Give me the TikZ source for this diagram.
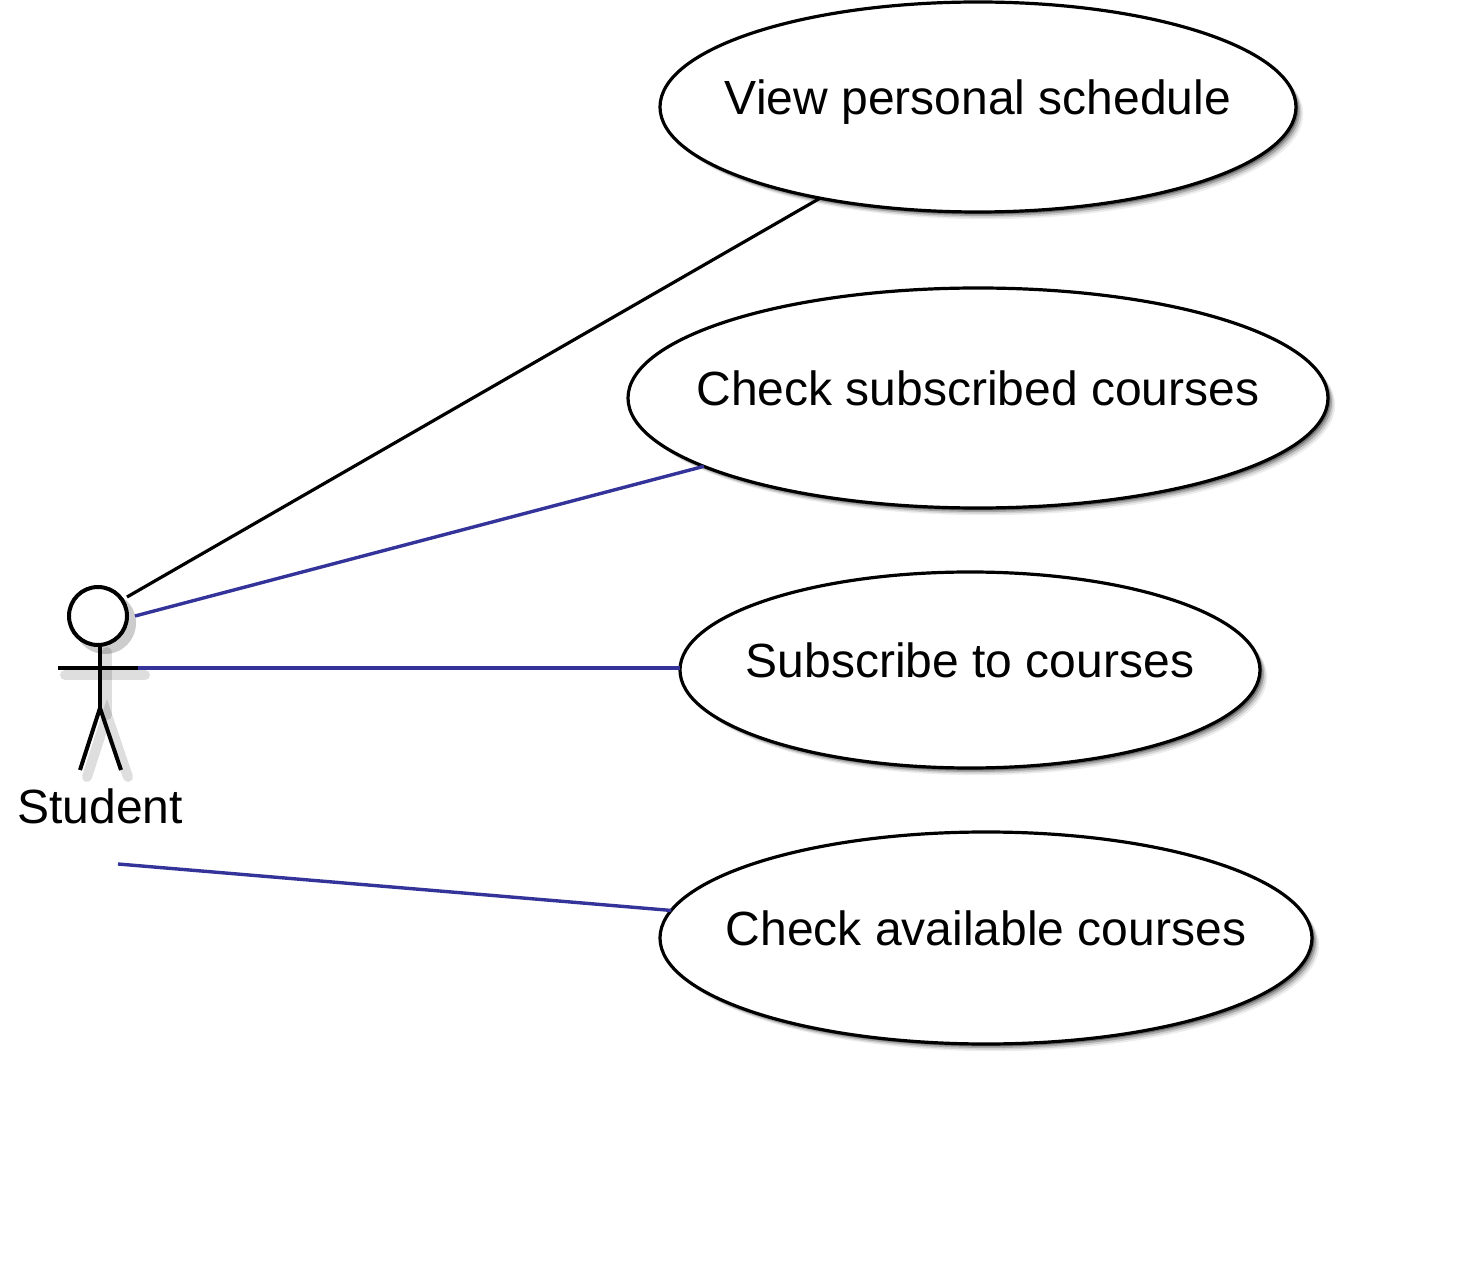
\documentclass[tikz,border=0pt]{standalone}
\usepackage{fontspec}
\setmainfont{Liberation Sans}
\usetikzlibrary{shapes.geometric, shadows}
\definecolor{linkblue}{HTML}{333399}
\tikzset{
  usecase/.style = {ellipse, draw, line width = 1.6pt, fill = white, inner sep = 0pt, outer sep = 0pt,
    font = \fontsize{24}{28}\selectfont,
    drop shadow = {shadow xshift = 3.6pt, shadow yshift = -3.6pt, fill = black, opacity = 0.07},
    drop shadow = {shadow xshift = 2.8pt, shadow yshift = -2.8pt, fill = black, opacity = 0.12},
    drop shadow = {shadow xshift = 2pt, shadow yshift = -2pt, fill = black, opacity = 0.2},
    drop shadow = {shadow xshift = 1.2pt, shadow yshift = -1.2pt, fill = black, opacity = 0.3}},
  link/.style = {line width = 1.7pt, linkblue},
  limbs/.style = {line width = 2pt, black},
  limbshadow/.style = {line width = 5pt, black, opacity = 0.13, line cap = round}
}
\newcommand{\caselabel}[1]{\raisebox{10pt}{\makebox[0pt]{#1}}}
\newcommand{\drawlimbs}{%
  \draw (neck) -- (hip);
  \draw (lefthand) -- (righthand);
  \draw (leftfoot) -- (hip) -- (rightfoot);
}
\begin{document}
\begin{tikzpicture}[x = 0.5pt, y = -0.5pt]
  \useasboundingbox (0, 0) rectangle (1484, 1272);
  \coordinate (neck) at (100, 645);
  \coordinate (hip) at (100, 708);
  \coordinate (lefthand) at (58, 668);
  \coordinate (righthand) at (138, 668);
  \coordinate (leftfoot) at (80, 770);
  \coordinate (rightfoot) at (121, 770);
  \coordinate (headend) at (127, 597);
  \coordinate (shoulder) at (135, 616);
  \coordinate (studentend) at (118, 864);

  % shadow of the actor
  \begin{scope}[transform canvas = {shift = {(3.5pt, -3.5pt)}}, limbshadow]
    \drawlimbs
    \fill[black, opacity = 0.2] (98, 616) circle [x radius = 31, y radius = 31];
  \end{scope}
  \node[circle, draw, line width = 2pt, fill = white, minimum size = 29pt, inner sep = 0pt] (head) at (98, 616) {};
  \begin{scope}[limbs]
    \drawlimbs
  \end{scope}
  \node[font = \fontsize{24}{28}\selectfont] (student) at (100, 806) {Student};

  \node[usecase, minimum width = 318pt, minimum height = 105pt] (view) at (978, 107) {\caselabel{View personal schedule}};
  \node[usecase, minimum width = 350pt, minimum height = 110pt] (subscribed) at (978, 398) {\caselabel{Check subscribed courses}};
  \node[usecase, minimum width = 290pt, minimum height = 98pt] (subscribe) at (970, 670) {\caselabel{Subscribe to courses}};
  \node[usecase, minimum width = 326pt, minimum height = 106pt] (available) at (986, 938) {\caselabel{Check available courses}};

  \draw[line width = 1.6pt] (headend) -- (view.210);
  \draw[link] (shoulder) -- (subscribed.194.2);
  \draw[link] (righthand) -- (subscribe.west |- righthand);
  \draw[link] (studentend) -- (available.175.3);
\end{tikzpicture}
\end{document}
